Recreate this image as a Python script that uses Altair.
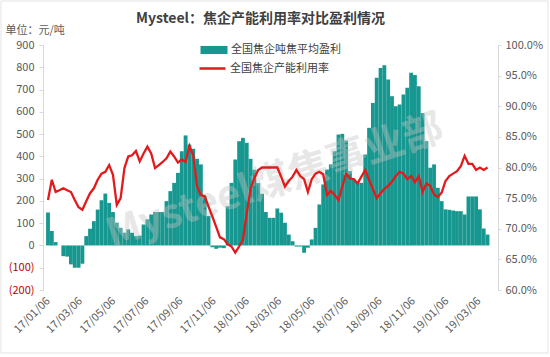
import altair as alt
import pandas as pd

# ---------------- data ----------------
START = "2017-01-06"
TITLE = "Mysteel：焦企产能利用率对比盈利情况"
UNIT = "单位：元/吨"
BAR_NAME = "全国焦企吨焦平均盈利"
LINE_NAME = "全国焦企产能利用率"
WATERMARK = "Mysteel煤焦事业部"

profit = [148, 65, 15, 0, -48, -50, -85, -100, -100, -82,
          42, 75, 109, 161, 203, 233, 191, 150, 102, 79,
          57, 72, 57, 42, 44, 94, 117, 139, 150, 150,
          150, 199, 244, 281, 326, 423, 494, 453, 434, 389,
          364, 221, 132, -8, -15, -10, -12, 176, 281, 386,
          468, 483, 461, 389, 340, 280, 232, 150, 124, 124,
          166, 147, 102, 49, 19, -5, -5, -33, -10, 27,
          79, 184, 274, 341, 364, 423, 498, 501, 471, 334,
          296, 281, 281, 408, 528, 640, 753, 797, 809, 745,
          670, 625, 633, 678, 708, 775, 765, 715, 595, 468,
          349, 364, 259, 199, 162, 160, 157, 154, 154, 139,
          220, 220, 220, 162, 76, 49]

rate = [74.7, 78.0, 76.0, 76.3, 76.6, 76.3, 76.0, 74.7, 73.5, 73.1,
        74.5, 75.8, 76.6, 78.0, 79.0, 79.3, 80.4, 78.8, 73.9, 75.0,
        79.9, 81.8, 82.0, 82.7, 81.0, 82.3, 83.4, 82.3, 79.9, 80.4,
        80.9, 81.5, 82.6, 81.8, 80.8, 81.3, 80.9, 83.5, 82.0, 76.9,
        75.5, 75.3, 73.6, 72.0, 70.3, 68.6, 68.3, 67.5, 67.1, 66.1,
        67.1, 68.2, 72.5, 76.5, 78.3, 79.6, 80.0, 80.0, 80.0, 80.0,
        80.0, 78.5, 76.9, 77.8, 78.5, 79.6, 78.6, 78.1, 76.0, 78.1,
        79.0, 79.3, 78.9, 75.5, 76.2, 75.5, 74.7, 76.9, 79.0, 78.2,
        78.1, 77.4, 78.5, 79.6, 78.0, 76.5, 75.0, 75.8, 76.5, 77.0,
        77.7, 78.6, 79.3, 79.0, 78.1, 78.6, 77.6, 78.6, 76.0, 77.4,
        77.0, 75.6, 75.2, 75.9, 77.8, 78.6, 79.0, 79.4, 80.2, 81.9,
        80.6, 80.6, 79.6, 80.0, 79.6, 80.0]

tick_months = [(2017, 1), (2017, 3), (2017, 5), (2017, 7), (2017, 9), (2017, 11),
               (2018, 1), (2018, 3), (2018, 5), (2018, 7), (2018, 9), (2018, 11),
               (2019, 1), (2019, 3)]
left_ticks = [-200, -100, 0, 100, 200, 300, 400, 500, 600, 700, 800, 900]
right_ticks = [60, 65, 70, 75, 80, 85, 90, 95, 100]

# ---------------- styling ----------------
FONT = "Noto Sans CJK SC"
TEAL = "#16978f"
RED = "#e31a1c"
GREY = "#595959"
AXIS_LINE = "#d9d9d9"

dates = pd.date_range(START, periods=len(profit), freq="7D")
df = pd.DataFrame({
    "date": dates,
    "start": dates - pd.Timedelta(hours=84),
    "end": dates + pd.Timedelta(hours=84),
    "profit": profit,
    "rate": rate,
    "bar": BAR_NAME,
    "line": LINE_NAME,
})
deco = pd.DataFrame({"t": [WATERMARK]})

x_scale = alt.Scale(domain=[alt.DateTime(year=2017, month=1, date=6),
                            alt.DateTime(year=2019, month=4, date=1)])
x_axis = alt.Axis(
    title=None, format="%y/%m/%d",
    values=[alt.DateTime(year=y, month=m, date=6) for y, m in tick_months],
    labelAngle=-45, labelAlign="right", labelBaseline="middle",
    labelPadding=9, ticks=False, domain=False, labelFontSize=11,
    labelOverlap=False,
)

frame = alt.Chart(deco).mark_rect(fill=None, stroke="#e3e3e3", strokeWidth=1).encode(
    x=alt.value(-42), x2=alt.value(505), y=alt.value(-44), y2=alt.value(308)
)

bars = alt.Chart(df).mark_bar(clip=True, orient="vertical").encode(
    x=alt.X("start:T", scale=x_scale, axis=x_axis),
    x2="end:T",
    y=alt.Y("profit:Q", scale=alt.Scale(domain=[-200, 900], nice=False),
            axis=alt.Axis(
                values=left_ticks, title=UNIT, titleAngle=0, titleX=-38, titleY=-15,
                titleAlign="left", titleBaseline="middle", titleFontSize=11,
                titleFontWeight="normal", titleColor=GREY, titleFont=FONT,
                labelExpr="datum.value < 0 ? '(' + abs(datum.value) + ')' : datum.value",
                labelColor=alt.condition("datum.value < 0", alt.value("#c00000"), alt.value(GREY)),
                tickSize=4, labelPadding=5,
            )),
    y2=alt.datum(0),
    fill=alt.Fill("bar:N", scale=alt.Scale(domain=[BAR_NAME], range=[TEAL]),
                  legend=alt.Legend(orient="none", legendX=162, legendY=-4, title=None,
                                    symbolType="M-1.5,-0.45L1.5,-0.45L1.5,0.45L-1.5,0.45Z",
                                    symbolSize=324, symbolStrokeWidth=0, symbolOpacity=1,
                                    labelOffset=8, labelFontSize=11, labelFont=FONT,
                                    labelColor="#404040", padding=0)),
)

watermark = alt.Chart(deco).mark_text(
    angle=342, fontSize=40, fontWeight="bold", font=FONT, color="#c4c4c4", opacity=0.4
).encode(text="t:N", x=alt.value(232), y=alt.value(137))

line = alt.Chart(df).mark_line(strokeWidth=2.3).encode(
    x=alt.X("date:T", scale=x_scale, axis=x_axis),
    y=alt.Y("rate:Q", scale=alt.Scale(domain=[60, 100], nice=False),
            axis=alt.Axis(orient="right", values=right_ticks, title=None,
                          labelExpr="format(datum.value, '.1f') + '%'",
                          tickSize=3, labelPadding=4)),
    stroke=alt.Stroke("line:N", scale=alt.Scale(domain=[LINE_NAME], range=[RED]),
                      legend=alt.Legend(orient="none", legendX=155, legendY=9, title=None,
                                        symbolType="stroke", symbolSize=676,
                                        symbolStrokeWidth=2.5, labelOffset=3,
                                        labelFontSize=11, labelFont=FONT,
                                        labelColor="#404040", padding=0)),
)

chart = alt.layer(frame, bars, watermark, line).resolve_scale(
    y="independent"
).properties(
    width=455, height=245,
    autosize=alt.AutoSizeParams(type="none"),
    padding={"left": 43, "top": 45, "right": 52, "bottom": 67},
    title=alt.TitleParams(TITLE, fontSize=14, fontWeight="bold", color="#404040",
                          font=FONT, anchor="middle", frame="group", dx=-10, dy=33,
                          offset=8),
    background="white",
).configure_view(stroke=None).configure_axis(
    grid=False, domainColor=AXIS_LINE, tickColor=AXIS_LINE,
    labelFont=FONT, labelFontSize=11, labelColor=GREY,
)

chart.save("out.html", embed_options={"renderer": "svg", "actions": False})
